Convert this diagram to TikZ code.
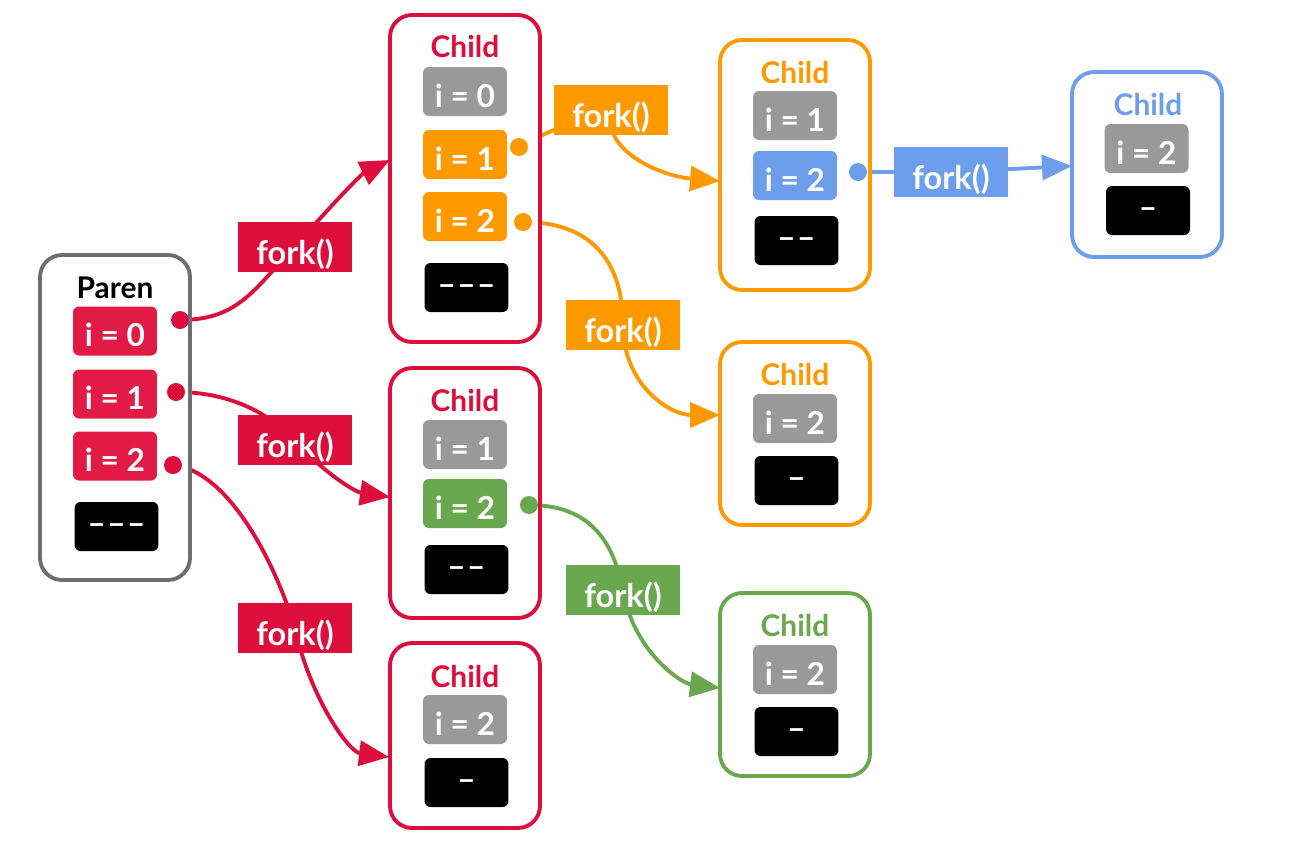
\documentclass[tikz,border=0pt]{standalone}
\usepackage{fontspec}
\setmainfont{Lato}
\usetikzlibrary{arrows.meta}
\definecolor{forkred}{RGB}{221,13,60}
\definecolor{varred}{RGB}{226,27,70}
\definecolor{forkorange}{RGB}{255,153,0}
\definecolor{forkblue}{RGB}{109,158,235}
\definecolor{forkgreen}{RGB}{106,168,79}
\definecolor{vargray}{RGB}{153,153,153}
\definecolor{parengray}{RGB}{110,110,110}
\pgfdeclarelayer{back}
\pgfsetlayers{back,main}
\def\dashes{\textendash\kern0.8pt\textendash\kern0.8pt\textendash}
\tikzset{
	proc/.style={draw, line width=2.2pt, rounded corners=0.44cm, minimum width=3cm, fill=white},
	proctitle/.style={font=\bfseries\fontsize{17}{19}\selectfont},
	var/.style={rounded corners=0.12cm, minimum width=1.68cm, minimum height=0.98cm, inner sep=0pt, text height=0.62cm, text depth=0pt, text=white, font=\bfseries\fontsize{18}{20}\selectfont},
	rest/.style={var, fill=black, text height=0.3cm},
	forklabel/.style={minimum width=2.28cm, minimum height=1cm, inner sep=0pt, text height=0.7cm, text depth=0pt, text=white, font=\bfseries\fontsize{18.5}{20}\selectfont},
	dot/.style={circle, minimum size=0.36cm, inner sep=0pt},
	forkline/.style={line width=2.2pt, -{Triangle[length=0.6cm, width=0.5cm]}}
}

\begin{document}
\begin{tikzpicture}[x=0.02cm, y=-0.02cm]
			%%%%% START %%%%%
			\useasboundingbox (0,0) rectangle (1316,846);
			
			% parent
			\node[proc, draw=parengray, minimum height=6.5cm] (p) at (115,417.5) {};
			\node[proctitle] (pt) at (115,288) {Paren};
			\node[var, fill=varred] (p0) at (115,331) {i = 0};
			\node[var, fill=varred] (p1) at (115,394) {i = 1};
			\node[var, fill=varred] (p2) at (115,456) {i = 2};
			\node[rest] (pb) at (116.5,526.5) {\dashes};
			
			% children of the parent
			\node[proc, draw=forkred, minimum height=6.54cm] (c1) at (465,178.5) {};
			\node[proctitle, text=forkred] (c1t) at (465,47) {Child};
			\node[var, fill=vargray] (c10) at (465,91.5) {i = 0};
			\node[var, fill=forkorange] (c11) at (465,154.5) {i = 1};
			\node[var, fill=forkorange] (c12) at (465,216.5) {i = 2};
			\node[rest] (c1b) at (466.5,287.5) {\dashes};
			
			\node[proc, draw=forkred, minimum height=5cm] (c2) at (465,493) {};
			\node[proctitle, text=forkred] (c2t) at (465,401) {Child};
			\node[var, fill=vargray] (c21) at (465,444.5) {i = 1};
			\node[var, fill=forkgreen] (c22) at (465,503.5) {i = 2};
			\node[rest] (c2b) at (466.5,569.5) {\textendash\kern0.8pt\textendash};
			
			\node[proc, draw=forkred, minimum height=3.7cm] (c3) at (465,735.5) {};
			\node[proctitle, text=forkred] (c3t) at (465,677) {Child};
			\node[var, fill=vargray] (c32) at (465,719.5) {i = 2};
			\node[rest] (c3b) at (466.5,782.5) {\textendash};
			
			% grandchildren
			\node[proc, draw=forkorange, minimum height=5cm] (c4) at (795,165) {};
			\node[proctitle, text=forkorange] (c4t) at (795,73) {Child};
			\node[var, fill=vargray] (c41) at (795,115.5) {i = 1};
			\node[var, fill=forkblue] (c42) at (795,175.5) {i = 2};
			\node[rest] (c4b) at (796.5,240.5) {\textendash\kern0.8pt\textendash};
			
			\node[proc, draw=forkorange, minimum height=3.66cm] (c5) at (795,433.5) {};
			\node[proctitle, text=forkorange] (c5t) at (795,375) {Child};
			\node[var, fill=vargray] (c52) at (795,418.5) {i = 2};
			\node[rest] (c5b) at (796.5,480.5) {\textendash};
			
			\node[proc, draw=forkgreen, minimum height=3.66cm] (c6) at (795,684.5) {};
			\node[proctitle, text=forkgreen] (c6t) at (795,626) {Child};
			\node[var, fill=vargray] (c62) at (795,669.5) {i = 2};
			\node[rest] (c6b) at (796.5,731.5) {\textendash};
			
			\node[proc, draw=forkblue, minimum height=3.7cm] (c7) at (1147,164.5) {};
			\node[proctitle, text=forkblue] (c7t) at (1148,105) {Child};
			\node[var, fill=vargray] (c72) at (1146.5,148.5) {i = 2};
			\node[rest] (c7b) at (1148,210.5) {\textendash};
			
			% fork() labels
			\node[forklabel, fill=forkred] (f1) at (295,247) {fork()};
			\node[forklabel, fill=forkred] (f2) at (295,440) {fork()};
			\node[forklabel, fill=forkred] (f3) at (295,628) {fork()};
			\node[forklabel, fill=forkorange] (f4) at (611,110) {fork()};
			\node[forklabel, fill=forkorange] (f5) at (623,325) {fork()};
			\node[forklabel, fill=forkgreen] (f6) at (623,590) {fork()};
			\node[forklabel, fill=forkblue] (f7) at (951,172) {fork()};
			
			% start dots
			\node[dot, fill=forkred] (d0) at (180,320) {};
			\node[dot, fill=forkred] (d1) at (176,392) {};
			\node[dot, fill=forkred] (d2) at (173,465) {};
			\node[dot, fill=forkorange] (d3) at (519,147) {};
			\node[dot, fill=forkorange] (d4) at (523,222) {};
			\node[dot, fill=forkgreen] (d5) at (529,505) {};
			\node[dot, fill=forkblue] (d6) at (858,172) {};
			
			% arrow ends on the child boxes
			\coordinate (c1in) at (390,160);
			\coordinate (c2in) at (390,497);
			\coordinate (c3in) at (389,757);
			\coordinate (c4in) at (720,181);
			\coordinate (c5in) at (720,415);
			\coordinate (c6in) at (720,688);
			\coordinate (c7in) at (1072,166);
			
			\begin{pgfonlayer}{back}
			\draw[forkline, forkred] (d0.center) .. controls +(60,0) and +(-40,40) .. (f1.center) .. controls +(30,-35) and +(-30,15) .. (c1in);
			\draw[forkline, forkred] (d1.center) .. controls +(50,0) and +(-30,-30) .. (f2.center) .. controls +(25,30) and +(-35,-5) .. (c2in);
			\draw[forkline, forkred] (d2.center) .. controls +(50,5) and +(-25,-80) .. (f3.center) .. controls +(15,70) and +(-40,-5) .. (c3in);
			\draw[forkline, forkorange] (d3.center) .. controls +(25,-15) and +(-20,5) .. (f4.center) .. controls +(-10,40) and +(-60,-5) .. (c4in);
			\draw[forkline, forkorange] (d4.center) .. controls +(80,0) and +(0,-50) .. (f5.center) .. controls +(0,60) and +(-50,0) .. (c5in);
			\draw[forkline, forkgreen] (d5.center) .. controls +(60,0) and +(-10,-50) .. (f6.center) .. controls +(10,60) and +(-40,-5) .. (c6in);
			\draw[forkline, forkblue] (d6.center) -- (f7.center) -- (c7in);
			\end{pgfonlayer}
			
			%%%%% END %%%%%
\end{tikzpicture}
\end{document}
